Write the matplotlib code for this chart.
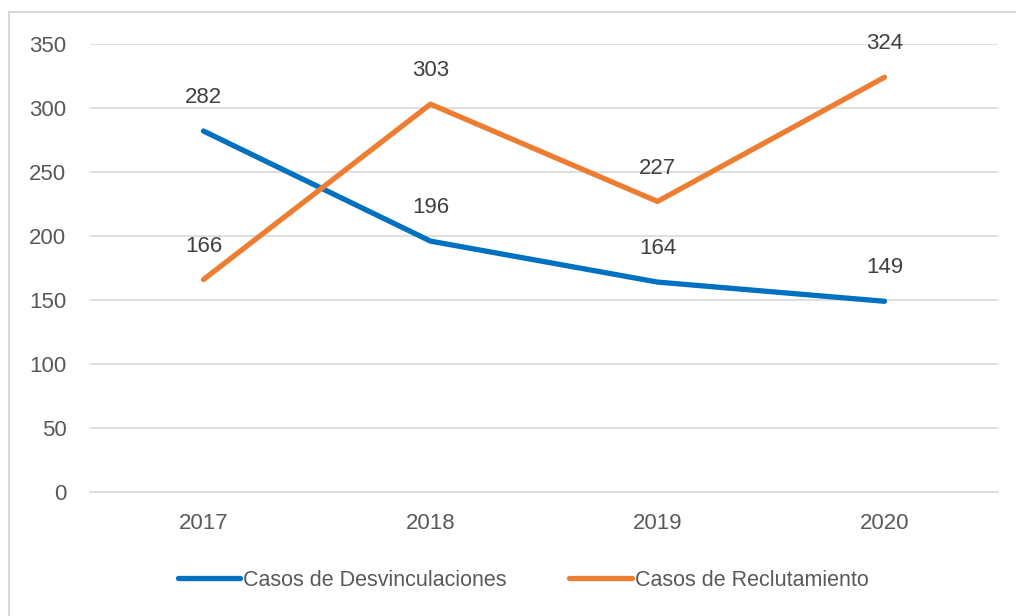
import matplotlib.pyplot as plt
from matplotlib.patches import Rectangle

years = ['2017', '2018', '2019', '2020']
desvinculaciones = [282, 196, 164, 149]
reclutamiento = [166, 303, 227, 324]

blue = '#0070C0'
orange = '#ED7D31'
grid_col = '#D9D9D9'

fig = plt.figure(figsize=(10.16, 6.16), dpi=100)
ax = fig.add_axes([90 / 1016, 1 - 492 / 616, 908 / 1016, 448 / 616])

x = range(len(years))
l1, = ax.plot(x, desvinculaciones, color=blue, lw=3.8, solid_capstyle='round',
              label='Casos de Desvinculaciones', zorder=3)
l2, = ax.plot(x, reclutamiento, color=orange, lw=3.8, solid_capstyle='round',
              label='Casos de Reclutamiento', zorder=3)

for series in (desvinculaciones, reclutamiento):
    for i, v in enumerate(series):
        ax.annotate(str(v), (i, v), xytext=(0, 24), textcoords='offset points',
                    ha='center', va='center', fontsize=16, color='#404040',
                    family='Liberation Sans')

ax.set_xlim(-0.5, 3.5)
ax.set_ylim(0, 350)
ax.set_yticks(range(0, 351, 50))
ax.set_xticks(list(x))
ax.set_xticklabels(years)
ax.grid(axis='y', color=grid_col, lw=1.2)
ax.set_axisbelow(True)
for s in ['top', 'right', 'left']:
    ax.spines[s].set_visible(False)
ax.spines['bottom'].set_color(grid_col)
ax.spines['bottom'].set_linewidth(1.2)
ax.tick_params(length=0, labelsize=16, colors='#595959', pad=15)
ax.tick_params(axis='y', pad=17)
for lab in ax.get_xticklabels() + ax.get_yticklabels():
    lab.set_family('Liberation Sans')

fig.legend(handles=[l1, l2], loc='center', bbox_to_anchor=(0.515, 1 - 580 / 616),
           ncol=2, frameon=False, handlelength=2.9, handletextpad=0.15,
           columnspacing=2.9, prop={'family': 'Liberation Sans', 'size': 15.5},
           labelcolor='#595959')

fig.patches.append(Rectangle((9 / 1016, -0.1), 1.1, 1.1 - 12 / 616,
                             transform=fig.transFigure, fill=False,
                             edgecolor=grid_col, lw=1.5))

fig.savefig('out.png', dpi=100)
